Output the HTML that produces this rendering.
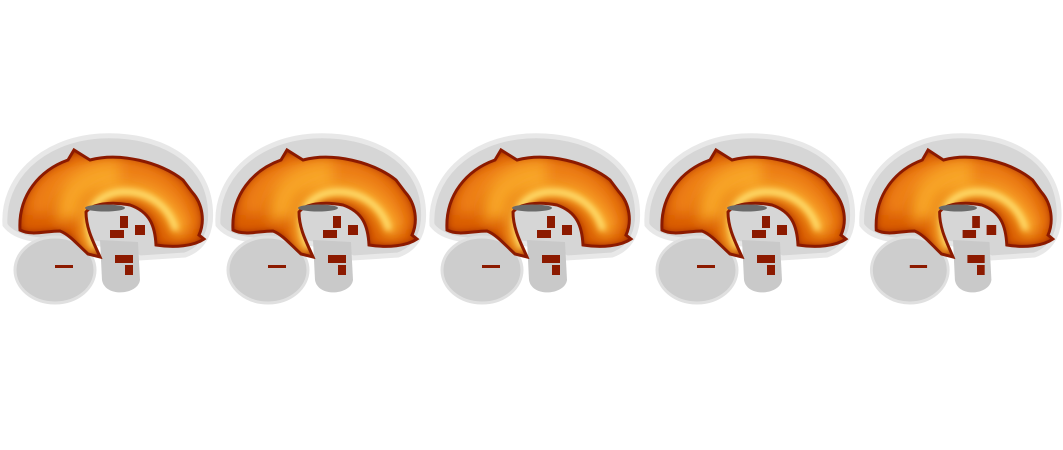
<!DOCTYPE html>
<html><head><meta charset="utf-8"><style>
html,body{margin:0;padding:0;background:#fff;width:1063px;height:450px;overflow:hidden}
</style></head><body>
<svg width="1063" height="450" viewBox="0 0 1063 450">
<defs>
<filter id="blur" filterUnits="userSpaceOnUse" x="-50" y="-50" width="320" height="280"><feGaussianBlur stdDeviation="7"/></filter>
<filter id="blur2" filterUnits="userSpaceOnUse" x="-50" y="-50" width="320" height="280"><feGaussianBlur stdDeviation="3"/></filter>
<filter id="blur3" filterUnits="userSpaceOnUse" x="-50" y="-50" width="320" height="280"><feGaussianBlur stdDeviation="4"/></filter>
<path id="op" d="M20,100 C18,65 40,40 68,30 L74,20 L90,30 C120,22 160,32 183,50 L192,62 C203,74 205,92 199,105 L204,109 C194,116 175,118 156,115 C155,96 150,82 130,75 C110,71 92,74 86,82 C86,100 95,115 100,127 L88,124 C78,115 70,105 60,101 C45,101 32,106 20,100Z"/>
<clipPath id="oc"><use href="#op"/></clipPath>
<g id="brain">
<path d="M5,95 C2,50 40,10 100,6 C160,3 205,30 210,75 C213,100 205,118 185,125 L140,128 L120,118 L90,112 C60,110 20,115 5,95Z" fill="#d6d6d6" stroke="#e8e8e8" stroke-width="5"/>
<ellipse cx="55" cy="140" rx="40" ry="33" fill="#cdcdcd" stroke="#e0e0e0" stroke-width="3"/>
<path d="M100,110 L138,112 L140,150 C138,165 105,168 102,150Z" fill="#c9c9c9"/>
<use href="#op" fill="#8c1a00"/>
<g clip-path="url(#oc)">
<use href="#op" fill="#d85a06" filter="url(#blur3)"/>
<path d="M40,85 C40,55 65,42 100,40 C150,38 180,60 186,100" fill="none" stroke="#ee8014" stroke-width="24" filter="url(#blur)"/>
<path d="M70,90 C62,62 85,45 120,44" fill="none" stroke="#f8a428" stroke-width="26" filter="url(#blur)"/>
<path d="M95,122 C80,90 88,64 120,60 C150,58 172,76 180,105" fill="none" stroke="#ffb830" stroke-width="14" filter="url(#blur)"/>
<path d="M95,118 C82,90 90,66 120,62 C150,60 170,78 176,100" fill="none" stroke="#ffe070" stroke-width="6" filter="url(#blur2)"/>
</g>
<use href="#op" fill="none" stroke="#8c1a00" stroke-width="3"/>
<ellipse cx="105" cy="78" rx="20" ry="3.5" fill="#6a6a6a"/>
<g fill="#8c1a00"><rect x="120" y="86" width="8" height="12"/><rect x="110" y="100" width="14" height="8"/><rect x="135" y="95" width="10" height="10"/><rect x="115" y="125" width="18" height="8"/><rect x="55" y="135" width="18" height="3"/><rect x="125" y="135" width="8" height="10"/></g>
</g>
</defs>
<use href="#brain" transform="translate(0,130)"/>
<use href="#brain" transform="translate(213,130)"/>
<use href="#brain" transform="translate(427,130)"/>
<use href="#brain" transform="translate(642,130)"/>
<use href="#brain" transform="translate(857,130) scale(0.96,1)"/>
</svg>
</body></html>
